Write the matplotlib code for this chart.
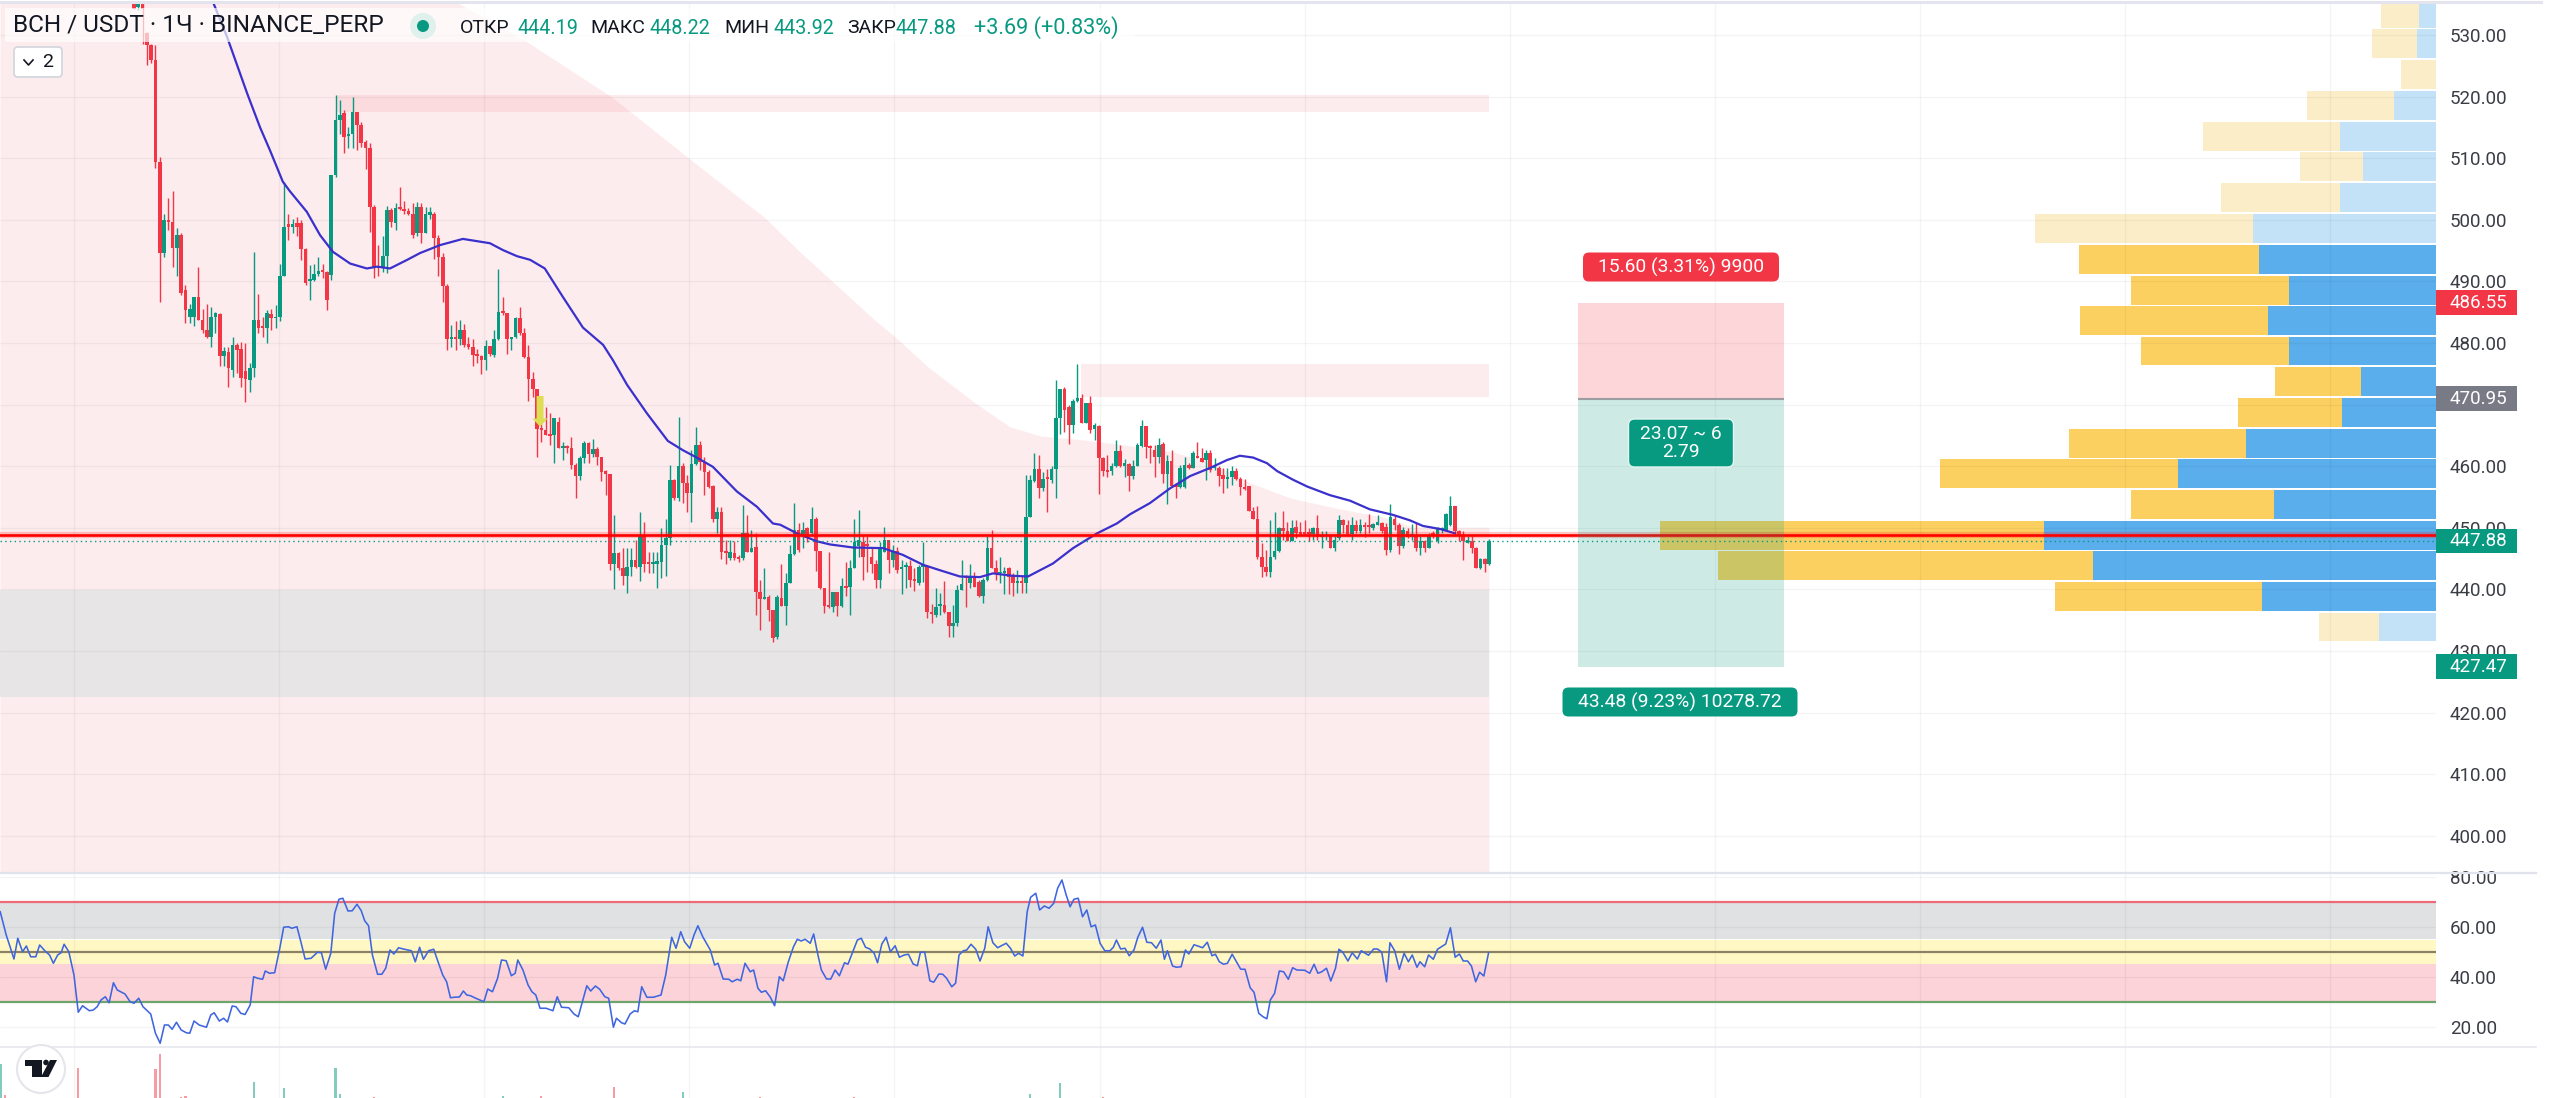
"""BCH / USDT hourly chart with RSI, volume and a visible-range volume profile."""

import matplotlib

matplotlib.use("Agg")

import matplotlib.pyplot as plt
import numpy as np
from matplotlib.lines import Line2D
from matplotlib.patches import Circle, FancyBboxPatch, Polygon, Rectangle

# candles
bar_open = [
    535.1, 534.5, 535.1, 530.3, 528.4, 525.9, 509.4, 494.6, 500, 499.7,
    495.4, 497.5, 488.6, 484.3, 484.3, 487.5, 483.7, 482.1, 481, 484.3,
    484.7, 477.9, 478.6, 475.6, 479.7, 479, 475.4, 474, 475.9, 483.7,
    482.6, 482.4, 484.7, 484, 484.2, 490.9, 499.4, 498.9, 499.5, 499.5,
    495.2, 490.1, 490.2, 491.2, 491.7, 491.6, 491, 507.3, 516.2, 517.3,
    513.6, 514, 517.5, 515.4, 512.7, 511.6, 502.1, 492.4, 492.1, 494.1,
    501.6, 499.5, 501.9, 501.7, 501.5, 501, 497.8, 502.1, 497.8, 500.8,
    501, 497, 493.9, 489.3, 480.6, 480.8, 480.6, 482.1, 479.8, 479.4,
    478.2, 477.9, 477.2, 479.5, 478.1, 480.6, 485.2, 484.8, 480.6, 481,
    484.1, 481.6, 477.7, 474.1, 472.6, 466.1, 465.9, 465.3, 465.1, 467.2,
    463, 463.1, 462.9, 460.2, 458.4, 461.3, 463.8, 462, 462.8, 461.5,
    459.3, 458.7, 444.2, 445.9, 443.4, 442.2, 443.7, 444.7, 443.7, 448.8,
    444.3, 444.1, 444.2, 444.5, 447.2, 448.4, 457.7, 454.8, 460, 457.2,
    455.6, 460.4, 463.4, 460.7, 459, 456.8, 451.5, 452.5, 446.1, 445.1,
    445.9, 445.3, 445.1, 449.2, 446.1, 446.9, 439.6, 438.4, 438.8, 436.6,
    432.2, 438.6, 437.3, 441.1, 445.8, 449.6, 448.8, 449.9, 449.1, 451.5,
    446.3, 440.3, 437.5, 437.1, 439.5, 437.3, 440.5, 440.4, 443.4, 447,
    447.7, 447.2, 445.3, 444.1, 441.5, 446.1, 448.1, 444.7, 446.3, 443.3,
    443.7, 443.8, 441.6, 441.1, 443.7, 443.8, 436.4, 435.8, 437.3, 437.5,
    436.4, 434, 434.5, 439.9, 442, 441.1, 442, 441.2, 438.9, 441.5,
    446.7, 443.4, 442.6, 442.6, 443.4, 442.3, 441, 441.3, 441, 451.8,
    457.6, 459.6, 456.4, 458.2, 457.8, 459.6, 467.8, 472.5, 469.6, 466.7,
    470.6, 471, 467, 470.2, 466, 466.6, 461.4, 459.3, 459.3, 460,
    462.5, 460, 460.4, 458.4, 460, 463.3, 466.5, 463, 462.7, 461.5,
    463.6, 458.8, 460.9, 457, 456.6, 456.6, 460.2, 459.7, 461.6, 461.3,
    461, 462.1, 459.7, 459.7, 458.6, 457.9, 458.2, 459.3, 458, 456.6,
    456.8, 452.8, 451.5, 445.2, 443.7, 442.9, 445.3, 446.3, 449.9, 449.4,
    447.9, 450.2, 449.2, 449.2, 449.1, 449, 449.9, 448.5, 448.6, 448.7,
    446.8, 448.3, 451.2, 450.5, 449, 450.5, 449.4, 450.5, 450.3, 449.9,
    450.5, 450.8, 450.2, 446.4, 451.5, 450.5, 447.1, 449.5, 448.5, 448.8,
    446.8, 447.8, 446.8, 449.1, 447.8, 449.7, 449.7, 450.5, 453.5, 449.4,
    448.8, 447.6, 447.8, 446.8, 443.5, 444.9, 444.19,
]
bar_high = [
    535.4, 535.4, 535.4, 530.5, 528.6, 528.4, 510.2, 501, 503.5, 504.7,
    498.6, 497.8, 489.4, 486.4, 487.5, 492.4, 485.6, 486.4, 485.9, 485.1,
    484.9, 479.4, 479.4, 481, 480, 480.2, 480, 476.7, 494.7, 488,
    484.3, 485.4, 485.6, 486.2, 492.9, 506.2, 501, 500.2, 500.5, 500,
    495.4, 492.7, 492.9, 494, 492.9, 491.7, 507.3, 520.3, 519.4, 517.8,
    515.1, 520, 517.5, 515.9, 513, 512.4, 502.4, 495.9, 497.3, 502.2,
    501.9, 502.7, 505.4, 503, 501.9, 502.7, 502.9, 502.7, 502.1, 502.1,
    501.3, 497.5, 494.6, 489.6, 482.9, 483.5, 483.7, 483.1, 480.9, 480.6,
    479.1, 478.1, 480.5, 479.5, 482.1, 492, 487.5, 484.8, 481, 484.3,
    485.8, 482.4, 479.7, 475.3, 472.6, 468.9, 469.6, 468.6, 467.8, 468,
    464, 463.4, 464.7, 460.5, 461.6, 464.1, 464, 464.4, 463.1, 461.5,
    459.4, 458.8, 452.1, 446.1, 446.7, 446.7, 446.7, 448, 452.6, 451,
    446.1, 446.1, 446.1, 449.9, 451.5, 460.2, 458, 468, 460.5, 458.6,
    462.6, 466.4, 464.1, 461.5, 459.4, 457, 453.4, 453.4, 448, 448,
    447.8, 445.6, 453.7, 452.1, 449.6, 449.1, 441.5, 443.4, 439.1, 436.6,
    439.1, 444.2, 442.6, 447.2, 454, 450.7, 451, 450.2, 453.4, 451.8,
    446.3, 440.3, 446, 439.5, 439.5, 441.8, 444.5, 444.8, 451.5, 452.9,
    448.8, 448.6, 446.9, 444.8, 447.7, 450.2, 448.1, 447.2, 446.9, 444.8,
    444.5, 444.8, 443.4, 444, 447.7, 444, 437.7, 440.2, 439.4, 441.3,
    436.4, 437.5, 440.7, 444.8, 442.3, 444.2, 442.9, 441.5, 441.8, 448.6,
    449.6, 444.8, 445.2, 443.7, 443.6, 442.6, 443.1, 442.1, 458.6, 458.6,
    462.2, 461.8, 459.1, 459.6, 460, 474, 472.6, 472.8, 469.9, 470.9,
    476.6, 471.8, 470.3, 471.4, 467, 466.7, 461.5, 461.8, 460.5, 464.2,
    463.4, 461.1, 460.5, 461, 463.8, 467.5, 466.5, 463.4, 463.4, 464.5,
    464, 461.8, 462.6, 457.2, 460.2, 461.5, 460.5, 462.4, 464, 462.9,
    462.7, 462.6, 461.3, 460, 459.7, 459.7, 460, 459.7, 458.3, 458,
    456.8, 453.3, 453.5, 447.5, 446.4, 451.3, 452.6, 450.2, 452.8, 451,
    451.3, 451.3, 451, 451.2, 449.9, 450.2, 452.1, 449.5, 449.4, 448.8,
    448.6, 452.1, 451.5, 451.3, 451.8, 451.3, 451.5, 451, 452.2, 450.8,
    452.1, 451, 450.7, 453.9, 452.1, 450.7, 450.2, 449.9, 450.6, 450.7,
    448.8, 448.1, 449.1, 449.4, 450.2, 450.2, 452.4, 455.2, 453.5, 449.6,
    449.5, 448.7, 448.6, 446.9, 445.1, 445.1, 448.22,
]
bar_low = [
    534.3, 534, 528.6, 525.1, 525.4, 508.4, 486.7, 494, 498.3, 492.4,
    490.8, 487.8, 483.2, 483.2, 482.7, 483.7, 481.6, 480.8, 479.4, 481.6,
    476.2, 476.2, 472.9, 474.5, 475.1, 472.9, 470.5, 472.1, 474.5, 481.6,
    481, 480, 482.1, 482.4, 483.5, 490.8, 496.7, 497.8, 497.3, 493.5,
    489.4, 487, 490, 490.8, 490.5, 485.4, 490.2, 507, 514, 510.8,
    511.6, 511.6, 511.3, 511.9, 508.3, 498.1, 490.5, 490.8, 491.6, 491.3,
    498.9, 498.3, 501.6, 501, 500.8, 497, 497.3, 496.2, 497.8, 500.2,
    493.7, 490.8, 486.7, 478.8, 479.4, 478.9, 479.7, 479.4, 479.1, 476.3,
    476.7, 475, 475.6, 477.9, 477.8, 480.5, 484.6, 478.2, 478.9, 480.8,
    481.3, 477.5, 470.6, 471.3, 461.5, 464, 465.1, 463.4, 460.5, 462.9,
    461, 462.1, 459.5, 454.8, 457.8, 460.5, 460.5, 461.5, 460.2, 457.6,
    455.3, 443.1, 440, 443.1, 440.7, 439.4, 442.1, 443.4, 441.4, 442.9,
    442.7, 442.6, 440.2, 441.8, 442.1, 447.2, 454.5, 454.4, 454, 452.6,
    451, 460.2, 459.4, 455.3, 456.4, 451, 449.1, 444.9, 444.2, 444.8,
    444.8, 444.5, 444.8, 446.1, 446, 435.8, 433.4, 438.4, 434.9, 431.5,
    432, 437.3, 434.2, 441, 445.6, 446.1, 446.7, 447.7, 448.6, 443,
    440, 436.1, 436.9, 436.4, 435.7, 437.2, 438.9, 435.8, 443.4, 445.3,
    441.5, 442.9, 442.6, 440.2, 440.2, 446.1, 442.6, 443.7, 442.7, 439.3,
    440.3, 440.4, 439.8, 440.7, 441.2, 435.3, 434.5, 435.6, 435.8, 436.1,
    432.2, 432.3, 434, 439.9, 437.1, 440.2, 440.4, 438.7, 437.8, 441.4,
    443.4, 441.5, 441, 439.3, 439.3, 438.9, 439.4, 439.4, 439.4, 451.8,
    457.5, 454.8, 455.9, 452.6, 457.3, 454.8, 465.3, 465.6, 463.6, 465.4,
    470.5, 467, 467, 465.4, 464.2, 455.5, 458.4, 458.2, 458.6, 459.9,
    459.8, 458.3, 455.9, 457.9, 460, 463.1, 461.3, 460.6, 458.3, 460.5,
    457.2, 453.9, 456.6, 454.8, 456.4, 456.4, 459.5, 459.7, 461.3, 460.7,
    457.8, 459.1, 459.4, 456.8, 455.6, 456.4, 456.9, 457.8, 455.3, 456.2,
    452.8, 451.4, 445, 442, 442.2, 442, 445, 446.1, 448, 447.9,
    447.9, 448.3, 448.8, 448.8, 447.9, 448, 448, 446.7, 448, 446.7,
    446.3, 448.1, 449.1, 448.6, 448.1, 449.2, 449.2, 448.5, 449.1, 449.6,
    450.5, 449.1, 445.6, 446.1, 449.7, 445.8, 446.8, 448.3, 448, 446.3,
    445.6, 446, 446.7, 448.3, 447.5, 449.1, 449.4, 450.3, 448.6, 447.8,
    444.7, 447.5, 445.9, 443.4, 443.3, 442.9, 443.92,
]
bar_close = [
    534.3, 535.1, 534.3, 528.4, 525.9, 509.4, 494.6, 499.9, 499.7, 495.4,
    497.5, 488.1, 485.4, 485.6, 487.5, 483.7, 482.1, 481, 484.3, 484.8,
    477.9, 478.7, 475.9, 479.7, 478.9, 474.3, 474.1, 475.9, 483.7, 482.4,
    482.4, 484.9, 484, 484.2, 490.9, 498.9, 498.9, 499.4, 498.9, 495.2,
    489.7, 490.2, 491.2, 491.7, 491.5, 487, 507.3, 516.2, 517, 513.5,
    514, 517.5, 515.4, 512.4, 511.6, 502.1, 492.4, 492.1, 494.1, 501.6,
    499.7, 501.9, 501.7, 501.5, 501, 497.5, 502.1, 497.8, 501, 501.3,
    497, 493.9, 489.3, 480.6, 480.8, 480.6, 482.1, 479.7, 479.3, 478,
    477.9, 477.2, 479.5, 478.2, 480.6, 485.1, 484.8, 480.6, 481, 484.1,
    481.6, 477.7, 474.1, 472.5, 466.1, 465.9, 465.1, 464.9, 467.8, 462.9,
    463.2, 462.9, 460.2, 458.4, 461.3, 463.8, 462, 462.8, 461.5, 459.1,
    458.7, 444.2, 445.9, 443.4, 442.2, 443.7, 444.7, 443.7, 448.8, 444.2,
    444.1, 444.3, 444.6, 447.2, 448.4, 457.7, 454.8, 460, 457.2, 455.6,
    460.4, 463.4, 460.7, 459, 456.7, 451.5, 452.5, 446.1, 445.9, 446,
    445.1, 444.9, 449.2, 446.1, 446.7, 439.6, 438.4, 438.8, 436.6, 432.1,
    438.8, 437.3, 441.1, 445.8, 449.6, 446.4, 449.6, 448.3, 451.5, 446.3,
    440.3, 437.3, 437.2, 439.5, 437.3, 440.5, 440.2, 443.4, 447.7, 448,
    445.3, 447, 444.1, 441.5, 446.9, 448.1, 444.8, 446.3, 443.1, 443.7,
    443.8, 441.5, 441.4, 443.7, 443.8, 436.4, 436, 437.2, 437.5, 436.4,
    434, 434.6, 439.9, 440.9, 441.8, 442, 440.4, 438.9, 441.5, 446.7,
    443.4, 442.6, 442.9, 443, 442, 441, 441.3, 441, 451.8, 457.8,
    459.6, 456.4, 458, 457.9, 459.6, 467.8, 472.5, 469.2, 466.7, 470.6,
    471, 467, 470.2, 465.8, 466.7, 461.4, 459.3, 459.1, 460, 462.5,
    460, 460.5, 458.4, 460, 463.4, 466.5, 463.1, 462.9, 461.5, 463.4,
    458.8, 460.9, 456.8, 456.6, 459.7, 460.2, 459.7, 462.1, 461.3, 460.7,
    462.1, 459.4, 460, 458.4, 457.9, 458.3, 459.3, 458, 456.6, 456.3,
    452.8, 451.5, 445.2, 443.7, 442.9, 445.3, 446.3, 449.9, 449.4, 447.9,
    449.9, 449.1, 449, 449, 449, 449.9, 448.5, 448.7, 448.9, 446.8,
    448.1, 451.2, 450.5, 449, 450.5, 449.4, 450.5, 450.2, 450.2, 450.6,
    451, 449.4, 446.4, 451.7, 450.5, 447.1, 449.6, 448.5, 449, 446.8,
    447.8, 446.8, 448.8, 448.7, 449.9, 449.9, 452.2, 453.5, 449.4, 448.8,
    447.8, 448, 446.8, 443.5, 444.9, 444.19, 447.88,
]

# moving average, vertices along the visible curve
ma_bars = [
    18.4, 21.7, 26.4, 29.4, 31.7, 34.7, 36.4, 40.3, 43.4, 46.4, 50.4, 54.3, 56.7, 59.7, 63.7, 66.7,
    71.4, 76.7, 83, 86, 89.3, 92.4, 95.8, 100, 104.7, 109.4, 111.7, 115, 119.6, 124.5, 128, 131.5,
    135, 140.6, 145.3, 149, 150.7, 154.6, 159.3, 162.3, 167.7, 174.7, 179.3, 184, 188, 192.6, 197.3,
    200.3, 205, 208.5, 214.3, 219, 224.6, 229.2, 232.3, 236.9, 241.6, 246.3, 250.9, 254.9, 257.9,
    261, 264.2, 266.6, 270.3, 273.6, 278.9, 283.6, 288.2, 293.6, 297.6, 300.6, 304.6, 308.1,
]
ma_values = [
    535.4, 529.7, 520.5, 515, 511.3, 506.2, 504.6, 501.3, 497.5, 494.8, 492.9, 492.1, 492.4, 492.1, 493.5, 494.6,
    495.9, 496.9, 496.2, 495.1, 494.1, 493.5, 492.1, 487.5, 482.5, 479.7, 477.2, 473.2, 468.6, 464.1, 462.6, 461.3,
    459.9, 455.9, 453.4, 450.7, 450.5, 449.1, 447.8, 447.3, 446.8, 446.7, 445.6, 444, 443.1, 442.1, 442,
    442.6, 442.2, 442.1, 444.2, 446.7, 449.1, 450.7, 452.2, 454, 456.4, 458.4, 459.7, 461, 461.7,
    461.4, 460.5, 459.2, 457.8, 456.7, 455.3, 454.4, 453, 452.1, 451.2, 450.3, 449.8, 449.1,
]

# pink resistance zone, upper edge
zone_bars = [
    -31.25, 75, 91, 111.5, 129.4, 147.2, 155.3, 172.8, 177.5, 185.2, 195.9, 204.3,
    211.5, 219.7, 231.6, 242.3, 250.7, 260.3, 269.8, 280.3, 292.2, 298.3, 316,
]
zone_top = [
    535.4, 535.4, 529.2, 519.9, 510, 500.3, 494.8, 483.7, 481, 476.1, 470.4, 466.4,
    464.9, 464.4, 463.4, 462.3, 460.7, 457.3, 454.8, 453.2, 451.6, 450.1, 450.1,
]

# volume profile rows, top to bottom
profile_price = [
    533.5, 528.6, 523.6, 518.6, 513.6, 508.6, 503.6, 498.6, 493.6, 488.6, 483.7,
    478.7, 473.7, 468.7, 463.7, 458.8, 453.8, 448.8, 443.9, 438.9, 433.9,
]
profile_up = [17, 19, 0, 42, 96, 73, 96, 183, 177, 147, 168, 147, 75, 94, 190, 258, 162, 392, 343, 174, 57.5]
profile_down = [38, 45, 35.5, 87, 137, 63, 119, 218, 180, 158, 188, 148, 86, 104, 177, 238, 143, 384, 375, 207, 59.5]
profile_in_area = [False] * 8 + [True] * 12 + [False]

# RSI vertices
rsi_bars = [
    -31.2, -29.8, -28.9, -28, -27.1, -26, -25.1, -24.1, -22.9, -22, -20.8, -19.7, -18.8, -17.8, -17, -16.3, -15.2,
    -14, -13, -12, -10.4, -9.5, -8.6, -7.7, -6.7, -5.8, -4.8, -3.9, -2.1, -0.9, 0, 1.1, 2.1, 3.9, 5, 6.1, 7.1, 8,
    8.9, 9.9, 11, 12.2, 13, 14, 15.2, 16.9, 17.9, 18.7, 19.9, 20.9, 21.8, 22.9, 23.8, 24.9, 25.9, 27.1, 27.9, 28.8,
    30, 30.6, 31.6, 32.8, 34, 34.9, 36, 36.8, 38, 39, 39.9, 41.3, 42.8, 43.7, 44.7, 45.9, 46.8, 47.8, 48.7, 49.9,
    50.9, 52, 53, 53.8, 54.7, 55.6, 56.8, 57.8, 58.7, 59.7, 60.6, 61.7, 62.8, 64.7, 65.6, 66.6, 67.5, 68.7, 69.9,
    70.9, 72, 72.9, 73.8, 74.7, 75.9, 76.8, 77.6, 78.5, 79.7, 81.6, 82.5, 83.6, 84.8, 85.7, 86.8, 88, 88.9, 89.5,
    90.7, 91.9, 92.8, 93.7, 94.7, 96.1, 97.7, 98.7, 99.7, 101.4, 102.6, 103.6, 105.6, 106.5, 107.6, 108.6, 109.8,
    110.7, 111.8, 112.5, 113.7, 114.5, 115.7, 116.7, 117.5, 118.4, 119.6, 121.1, 122.9, 124, 125.4, 126.4, 127.5,
    128.4, 129.6, 130.6, 131.5, 132.7, 134.4, 135.4, 136.2, 137.4, 138.7, 139.5, 140.7, 141.5, 142.5, 143.7, 144.5,
    145.5, 146.3, 147.3, 148.4, 149.4, 150.5, 151.4, 152.6, 153.8, 154.7,
    155.6, 156.5, 157.7, 158.5, 159.5, 160.3, 161.5, 162.5, 163.5, 164.5, 165.7, 166.5, 167.5, 168.7, 169.6, 170.6,
    171.6, 172.6, 173.4, 174.4, 175.4, 176.4, 177.5, 178.5, 179.6, 180.6, 181.7, 182.7, 183.4, 184.4, 185.6, 186.5,
    187.7, 188.6, 189.5, 190.7, 191.6, 192.4, 193.4, 194.2, 195.2, 196.3, 197.3, 198.4, 199.2, 200.3, 201.4, 202.6,
    203.4, 204.4, 205.4, 206.3, 207.3, 208.3, 209.1, 210.3, 211.2, 212.3, 213.4, 214.5, 215.4, 216.4, 217.4, 218.3,
    219.2, 220.2, 221.2, 222.2, 223.2, 224.2, 225.3, 226.4, 227.6, 228.4, 229.1, 230.1, 231.1, 232.1, 233.2, 234.1,
    235.2, 236.2, 237.3, 238.4, 239.5, 240.3, 241, 242.2, 243.1, 244.2, 245.2, 246, 247.2, 248.1, 249.2, 250.3,
    251.4, 252.2, 253.1, 254.1, 255, 256.1, 257.3, 258.1, 259.1, 260.3, 261.2, 262.3, 263.3, 264.2, 265, 266, 267.1,
    268.1, 269.2, 270.2, 271.2, 273, 274.2, 275.2, 276.1, 277, 278.1, 279.1, 280.2, 281, 281.9, 283.1, 284.1, 285.3,
    286.2, 287.9, 289.1, 290, 291, 292.1, 292.9, 294, 295.1, 296.2, 297.2, 298.1, 299.2, 299.9, 301, 301.9, 303, 304,
    305.9, 307, 308.1, 309.1, 310, 311, 311.9, 312.9, 313.8, 314.8, 315.9,
]
rsi_values = [
    66.1, 56.8, 52.1, 47.2, 55.5, 50.1, 52.4, 48.1, 48.1, 52.8, 50.5, 48.8, 45.5, 48.8, 49.7, 53.1, 50.1,
    40.8, 25.9, 28.5, 26.5, 26.8, 28.1, 30.8, 32.1, 29.7, 37.7, 34.8, 33.2, 30.1, 29.5, 31.5, 28.1, 25.2, 17.5, 13.5, 20.8, 20.8,
    19.1, 21.9, 18.8, 17.7, 17.5, 22.4, 20.8, 19.9, 24.8, 25.7, 22.4, 23.5, 22, 28.4, 28.1, 25.5, 25, 28.8, 40.1, 39.5,
    39.1, 42.4, 41.5, 41.7, 51.5, 59.9, 60.1, 59.5, 60.1, 53.5, 47.2, 47.5, 49.9, 49.7, 43.1, 49.5, 65.5, 71.1, 71.5, 66.4,
    66.5, 69.1, 66.5, 62.5, 60.5, 48.8, 41.1, 41.1, 43.5, 50.8, 49.2, 51.7, 51.2, 50.5, 46.1, 51.9, 47.1, 50.5, 51.1,
    46.1, 40.8, 38.1, 31.7, 31.9, 32, 34.4, 32.8, 32.5, 31.5, 30.1, 35.2, 34.1, 39.5, 46.8, 46.5, 40.5, 41.5, 46.8,
    42.8, 36.8, 34.1, 32.8, 27.5, 27.5, 26.5, 32.1, 27.9, 27.7, 25.2, 24.1, 36.5, 34.4, 36.4, 35.1, 32.1,
    31.5, 19.9, 23.5, 21.7, 21.2, 25.2, 26.5, 26.1, 36.1, 31.9, 31.9, 32.8, 40.8, 55.9, 51.5, 58.1,
    54.1, 51.5, 56.8, 60.5, 55.9, 50.8, 44.8, 45.5, 39.2, 39.1, 38.1, 39.1, 38.5, 45.5, 42.1, 42.8,
    35.5, 33.9, 34.5, 31.9, 28.5, 40.1, 38.5, 46.1, 52.1, 55.1,
    54.4, 55.1, 53.5, 57.2, 48.8, 42.8, 39.2, 39.2, 42.8, 40.5, 45.7, 45.1, 49.5, 54.8, 55.5, 51.9,
    51.2, 49.5, 45.7, 53.2, 55.9, 50.1, 52.5, 47.9, 48.8, 49.1, 45.2, 44.5, 49.9, 49.9, 38.5, 37.9,
    41.2, 41.1, 39.5, 36.1, 37.5, 48.8, 50.5, 50.8, 53.1, 51.1, 46.4, 51.5, 60.1, 53.7, 51.7, 52.8,
    53.5, 51.5, 48.4, 49.5, 48.4, 66.1, 71.9, 73.5, 66.8, 68.4, 67.5, 69.5, 75.5, 78.8, 72.8, 68.1,
    71.1, 71.5, 64.1, 66.8, 60.1, 60.8, 53.5, 50.5, 50.5, 51.9, 54.8, 51.2, 51.5, 48.5, 50.8, 55.9,
    59.9, 53.9, 53.7, 51.5, 54.8, 47.1, 50.5, 44.4, 43.9, 44.1, 50.8, 49.2, 52.9, 52.4, 51.7, 53.9,
    48.5, 49.1, 46.1, 45.1, 45.5, 49.1, 45.5, 43.1, 43.1, 35.7, 33.9, 25.5, 24.1, 23.3, 30.8, 33.5, 42.4,
    42.1, 39.1, 43.7, 42.8, 42.7, 41.5, 45.1, 41.5, 42.1, 43.5, 38.4, 43.5, 51.1, 49.9, 46.4, 49.7, 47.2,
    50.5, 48.7, 51.2, 51.2, 49.9, 38.1, 53.7, 50.5, 43.1, 49.5, 46.1, 48.8, 43.9, 46.1, 44.1, 48.8, 47.1, 51.1,
    53.2, 59.7, 47.9, 49.2, 46.4, 46.4, 44.4, 38.1, 41.9, 40.4, 49.7,
]

# volume sticks that reach into the visible strip
volume_bars = [-31, -30, -13, 5, 6, 11, 12, 28, 35, 47, 48, 56, 86, 95, 112, 128, 146, 168, 209, 216, 226]
volume_values = [34, 3, 30, 29, 44, 1, 2, 16, 10, 30, 4, 1, 2, 2, 11, 6, 1, 1, 4, 15, 1]
volume_up = [True, False, False, False, False, False, False, True, True, True, True,
             False, True, False, False, True, False, False, True, True, False]

price_ticks = [530, 520, 510, 500, 490, 480, 470, 460, 450, 440, 430, 420, 410, 400]
rsi_ticks = [80, 60, 40, 20]
grid_bars = [-14, 33.8, 81.6, 129.4, 177.2, 225.2, 273, 320.9, 368.7, 416.5, 464.4, 512.2]

RED = "#f23645"
TEAL = "#089981"
TEXT = "#3b3d45"
BAR_PX = 4.288
FIRST_BAR_PX = 134
AXIS_PX = 2436
FIG_W, FIG_H = 2560, 1098
LABEL_PAD = 14 / AXIS_PX


def pane(fig, top, bottom, ylim):
    """Add a pane between two pixel rows, with the shared bar scale along x."""
    ax = fig.add_axes([0, 1 - bottom / FIG_H, AXIS_PX / FIG_W, (bottom - top) / FIG_H])
    ax.set_xlim(-FIRST_BAR_PX / BAR_PX, (AXIS_PX - FIRST_BAR_PX) / BAR_PX)
    ax.set_ylim(*ylim)
    ax.set_axisbelow(True)
    ax.patch.set_alpha(0)
    for spine in ax.spines.values():
        spine.set_visible(False)
    ax.set_xticks([])
    ax.yaxis.tick_right()
    ax.tick_params(axis="y", length=0, pad=10, labelsize=13.5, labelcolor=TEXT)
    return ax


def price_tag(ax, price, label, color):
    """Filled tag on the price scale."""
    ax.add_patch(Rectangle((1.0, price - 2.0), 81 / AXIS_PX, 4.0, transform=ax.get_yaxis_transform(),
                           facecolor=color, edgecolor="none", clip_on=False, zorder=7))
    ax.text(1.0 + LABEL_PAD, price, label, transform=ax.get_yaxis_transform(), color="white",
            fontsize=13.5, ha="left", va="center", zorder=8)


def rounded_tag(ov, cx, cy, width, height, label, color, edge="none"):
    """Rounded label on the pixel overlay."""
    ov.add_patch(FancyBboxPatch((cx - width / 2, cy - height / 2), width, height,
                                boxstyle="round,pad=0,rounding_size=6", facecolor=color,
                                edgecolor=edge, linewidth=1))
    ov.text(cx, cy, label, color="white", fontsize=13.9, ha="center", va="center", linespacing=0.95)


def main() -> None:
    plt.rcParams["font.family"] = ["Roboto", "DejaVu Sans"]
    fig = plt.figure(figsize=(FIG_W / 100, FIG_H / 100), dpi=100, facecolor="white")

    ax = pane(fig, 2, 873, (393.96, 535.36))
    x = np.arange(len(bar_close))
    opens, highs, lows, closes = map(np.array, (bar_open, bar_high, bar_low, bar_close))
    left, right = ax.get_xlim()

    # zones
    ax.fill_between(zone_bars, zone_top, 393.96, color=RED, alpha=0.09, linewidth=0, zorder=1)
    ax.barh(431.2, 316 - left, height=17.4, left=left, color="#e8e5e7", zorder=1.1)
    ax.barh(518.9, 316 - 47.4, height=2.8, left=47.4, color=RED, alpha=0.09, zorder=1.1)
    ax.barh(473.9, 316 - 220.9, height=5.4, left=220.9, color=RED, alpha=0.09, zorder=1.1)

    # volume profile, anchored on the price scale
    for price, up, down, in_area in zip(profile_price, profile_up, profile_down, profile_in_area):
        up_color = "#5aaeec" if in_area else "#c3e2f7"
        down_color = "#fcd060" if in_area else "#fcedc9"
        ax.barh(price, up / BAR_PX, height=4.7, left=right - up / BAR_PX, color=up_color, zorder=1.5)
        ax.barh(price, down / BAR_PX, height=4.7, left=right - (up + down) / BAR_PX, color=down_color, zorder=1.5)

    # grid, the 470 label sits under its price tag
    ax.vlines(grid_bars, 393.96, 535.36, color="black", alpha=0.045, linewidth=1, zorder=2)
    ax.hlines(price_ticks, left, right, color="black", alpha=0.045, linewidth=1, zorder=2)
    ax.set_yticks(price_ticks, ["" if tick == 470 else f"{tick:.2f}" for tick in price_ticks])

    # candles
    colors = np.where(closes >= opens, TEAL, RED)
    ax.vlines(x, lows, highs, colors=colors, linewidth=1.0, zorder=3)
    ax.bar(x, np.maximum(np.abs(closes - opens), 0.3), bottom=np.minimum(opens, closes),
           width=0.84, color=colors, linewidth=0, zorder=3.1)
    ax.plot(ma_bars, ma_values, color="#3a30cc", linewidth=1.6, zorder=3.5)

    # last price and red level
    ax.axhline(448.9, color="#ff0000", alpha=0.22, linewidth=4.5, zorder=4)
    ax.axhline(448.9, color="#ff0000", linewidth=1.9, zorder=4.1)
    ax.axhline(447.88, color=TEAL, linewidth=1, linestyle=(0, (1, 2.4)), zorder=4)

    # long position box
    ax.barh(478.75, 48, height=15.6, left=336.8, color=RED, alpha=0.2, linewidth=0, zorder=5)
    ax.barh(449.21, 48, height=43.48, left=336.8, color=TEAL, alpha=0.2, linewidth=0, zorder=5)
    ax.hlines(470.95, 336.8, 384.8, color="#9c9ca3", linewidth=1.5, zorder=5.1)

    # signal arrow
    ax.annotate("", xy=(94.7, 466.4), xytext=(94.7, 471.4),
                arrowprops=dict(width=5, headwidth=11, headlength=6, shrink=0, color="#dede55", linewidth=0),
                zorder=5)

    price_tag(ax, 486.55, "486.55", RED)
    price_tag(ax, 470.95, "470.95", "#787b86")
    price_tag(ax, 447.88, "447.88", TEAL)
    price_tag(ax, 427.47, "427.47", TEAL)

    # RSI pane
    rsi_ax = pane(fig, 873, 1047, (12, 81.6))
    rsi_ax.axhspan(55, 70, color="#dfe1e3", linewidth=0, zorder=1)
    rsi_ax.axhspan(45, 55, color="#fff8c4", linewidth=0, zorder=1)
    rsi_ax.axhspan(30, 45, color="#fbd3d8", linewidth=0, zorder=1)
    rsi_ax.vlines(grid_bars, 12, 81.6, color="black", alpha=0.045, linewidth=1, zorder=2)
    rsi_ax.hlines(rsi_ticks, left, right, color="black", alpha=0.045, linewidth=1, zorder=2)
    rsi_ax.axhline(70, color="#ee6a76", linewidth=1.6, zorder=3)
    rsi_ax.axhline(50, color="#8a8262", linewidth=1.6, zorder=3)
    rsi_ax.axhline(30, color="#6ea56c", linewidth=1.6, zorder=3)
    rsi_ax.plot(rsi_bars, rsi_values, color="#3f66e0", linewidth=1.15, zorder=4)
    rsi_ax.set_yticks(rsi_ticks, [f"{tick:.2f}" for tick in rsi_ticks])

    # volume pane
    vol_ax = pane(fig, 1047, 1098, (0, 51))
    vol_ax.set_yticks([])
    vol_ax.vlines(grid_bars, 0, 51, color="black", alpha=0.045, linewidth=1, zorder=1)
    vol_colors = np.where(volume_up, "#83cbbe", "#f79aa2")
    vol_ax.bar(volume_bars, volume_values, width=0.5, color=vol_colors, linewidth=0, zorder=2)

    # pixel overlay for the interface parts
    ov = fig.add_axes([0, 0, 1, 1], zorder=10)
    ov.set_xlim(0, FIG_W)
    ov.set_ylim(FIG_H, 0)
    ov.axis("off")

    ov.add_patch(Rectangle((5, 8), 1130, 34, facecolor="white", alpha=0.68, edgecolor="none"))
    ov.text(13, 26, "BCH / USDT · 1Ч · BINANCE_PERP", fontsize=17.6, color="#131722", ha="left", va="center")
    ov.add_patch(Circle((423, 26), 13, facecolor="#dff0ed", edgecolor="none"))
    ov.add_patch(Circle((423, 26), 6, facecolor=TEAL, edgecolor="none"))
    for px, label, color, size in zip(
        (460, 517, 590, 650, 724, 774, 847, 896, 974),
        ("ОТКР", "444.19", "МАКС", "448.22", "МИН", "443.92", "ЗАКР", "447.88", "+3.69 (+0.83%)"),
        ("#131722", TEAL, "#131722", TEAL, "#131722", TEAL, "#131722", TEAL, TEAL),
        (14, 14.2, 14, 14.2, 14, 14.2, 14, 14.2, 15.6),
    ):
        ov.text(px, 28, label, fontsize=size, color=color, ha="left", va="center")

    ov.add_patch(FancyBboxPatch((14, 47), 48, 30, boxstyle="round,pad=0,rounding_size=4",
                                facecolor="white", edgecolor="#d1d4dc", linewidth=1.2))
    ov.plot([24, 28.5, 33], [60, 65, 60], color="#131722", linewidth=1.2)
    ov.text(48, 62, "2", fontsize=14, color="#131722", ha="center", va="center")

    rounded_tag(ov, 1681, 267, 196, 29, "15.60 (3.31%) 9900", RED)
    rounded_tag(ov, 1681, 443, 105, 48, "23.07 ~ 6\n2.79", TEAL, edge="#e6f5f2")
    rounded_tag(ov, 1680, 702, 235, 29, "43.48 (9.23%) 10278.72", TEAL)

    # logo
    ov.add_patch(Circle((41, 1069), 24, facecolor="white", edgecolor="#e4e6ec", linewidth=1.5))
    ov.add_patch(Polygon([(24.5, 1060), (42, 1060), (42, 1077), (32, 1077), (32, 1066), (24.5, 1066)], facecolor="#131722"))
    ov.add_patch(Circle((46, 1062.5), 2.8, facecolor="#131722"))
    ov.add_patch(Polygon([(57, 1060), (50, 1060), (41, 1077), (48.5, 1077)], facecolor="#131722"))

    # pane borders
    for row, color, width, end in ((1.5, "#e4e4ee", 2.2, 2541), (873, "#e0e3eb", 1.6, 2536), (1047, "#e6e8ee", 1.2, 2536)):
        fig.add_artist(Line2D([0, end / FIG_W], [1 - row / FIG_H] * 2, color=color, linewidth=width))

    fig.savefig("out.png", dpi=100)


if __name__ == "__main__":
    main()
